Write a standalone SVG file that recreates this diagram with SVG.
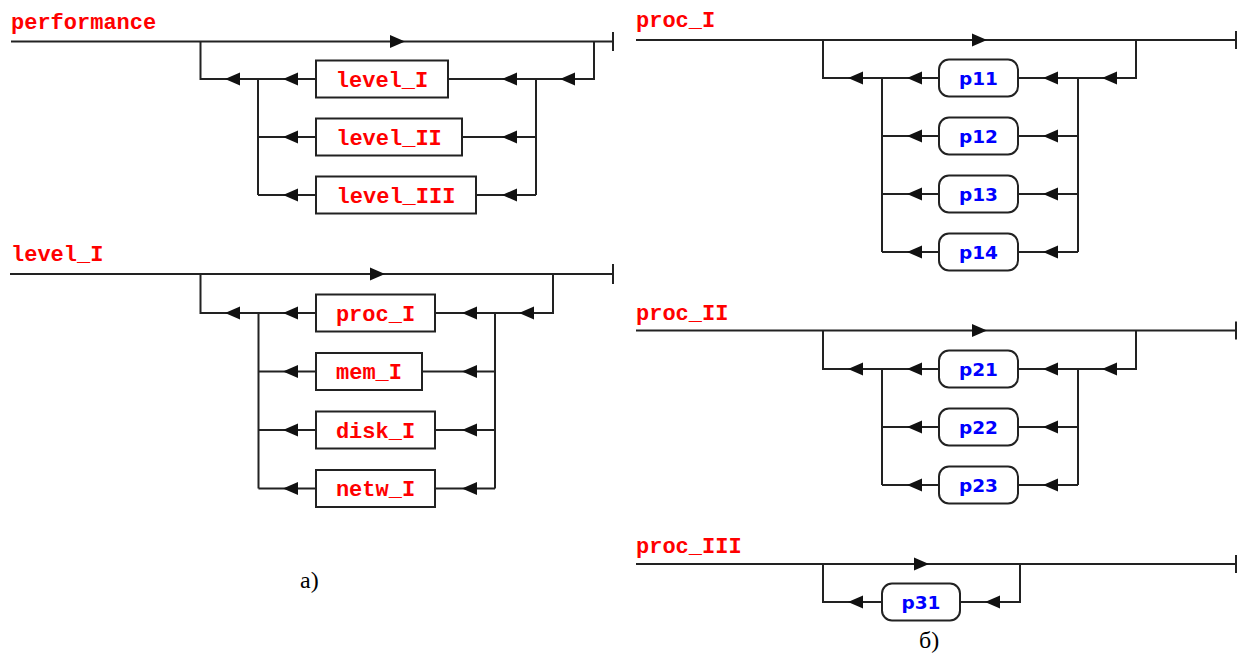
<svg xmlns="http://www.w3.org/2000/svg" width="1242" height="656" viewBox="0 0 1242 656">
<defs>
<path id="al" d="M0,0 L15,-6.5 L15,6.5 Z" fill="#111"/>
<path id="ar" d="M0,0 L-15,-6.5 L-15,6.5 Z" fill="#111"/>
</defs>
<style>
.ln{fill:none;stroke:#222;stroke-width:2}
.bx{fill:#fff;stroke:#222;stroke-width:2}
.nt{font-family:"Liberation Mono",monospace;font-weight:bold;font-size:22px;fill:#ff0000}
.bt{text-anchor:middle}
.pt{font-family:"DejaVu Sans",sans-serif;font-weight:bold;font-size:18.5px;fill:#0000ff;text-anchor:middle}
.cap{font-family:"Liberation Serif",serif;font-size:24px;fill:#000}
</style>
<rect width="1242" height="656" fill="#fff"/>

<g id="connectors">
  <!-- performance -->
  <path class="ln" d="M11,41.5H613 M613,32V51 M200.5,41.5V79H316 M448,79H594V41.5 M258,79V195 M258,137H316 M258,195H316 M536,79V195 M462,137H536 M476,195H536"/>
  <use href="#ar" x="405" y="41.5"/>
  <use href="#al" x="225" y="79"/><use href="#al" x="283" y="79"/><use href="#al" x="502" y="79"/><use href="#al" x="560" y="79"/>
  <use href="#al" x="283" y="137"/><use href="#al" x="502" y="137"/>
  <use href="#al" x="283" y="195"/><use href="#al" x="502" y="195"/>
  <!-- level_I -->
  <path class="ln" d="M10,274H613 M613,264V284 M200.5,274V313H316 M435,313H553V274 M258.5,313V488.5 M258.5,371.5H316 M258.5,430H316 M258.5,488.5H316 M495,313V488.5 M422,371.5H495 M435,430H495 M435,488.5H495"/>
  <use href="#ar" x="385" y="274"/>
  <use href="#al" x="225" y="313"/><use href="#al" x="283" y="313"/><use href="#al" x="462" y="313"/><use href="#al" x="519" y="313"/>
  <use href="#al" x="283" y="371.5"/><use href="#al" x="462" y="371.5"/>
  <use href="#al" x="283" y="430"/><use href="#al" x="462" y="430"/>
  <use href="#al" x="283" y="488.5"/><use href="#al" x="462" y="488.5"/>
  <!-- proc_I -->
  <path class="ln" d="M636,40H1236 M1236,31V49 M823,40V78H939 M1018,78H1136V40 M882,78V252 M882,136H939 M882,194H939 M882,252H939 M1078,78V252 M1018,136H1078 M1018,194H1078 M1018,252H1078"/>
  <use href="#ar" x="987" y="40"/>
  <use href="#al" x="848" y="78"/><use href="#al" x="907" y="78"/><use href="#al" x="1043" y="78"/><use href="#al" x="1102" y="78"/>
  <use href="#al" x="907" y="136"/><use href="#al" x="1043" y="136"/>
  <use href="#al" x="907" y="194"/><use href="#al" x="1043" y="194"/>
  <use href="#al" x="907" y="252"/><use href="#al" x="1043" y="252"/>
  <!-- proc_II -->
  <path class="ln" d="M636,330.5H1236 M1236,321.5V339.5 M823,330.5V369H939 M1018,369H1136V330.5 M882,369V485 M882,427H939 M882,485H939 M1078,369V485 M1018,427H1078 M1018,485H1078"/>
  <use href="#ar" x="987" y="330.5"/>
  <use href="#al" x="848" y="369"/><use href="#al" x="907" y="369"/><use href="#al" x="1043" y="369"/><use href="#al" x="1102" y="369"/>
  <use href="#al" x="907" y="427"/><use href="#al" x="1043" y="427"/>
  <use href="#al" x="907" y="485"/><use href="#al" x="1043" y="485"/>
  <!-- proc_III -->
  <path class="ln" d="M636,564H1236 M1236,555V573 M823,564V602H882 M960,602H1020V564"/>
  <use href="#ar" x="929" y="564"/>
  <use href="#al" x="848" y="602"/><use href="#al" x="985" y="602"/>
</g>

<g id="title-performance"><text class="nt" x="11" y="29">performance</text></g>
<g id="node-level_I"><rect class="bx" x="316" y="60.5" width="132" height="37"/><text class="nt bt" x="382" y="87">level_I</text></g>
<g id="node-level_II"><rect class="bx" x="316" y="118.5" width="146" height="37"/><text class="nt bt" x="389" y="145">level_II</text></g>
<g id="node-level_III"><rect class="bx" x="316" y="176.5" width="160" height="37"/><text class="nt bt" x="396" y="203">level_III</text></g>

<g id="title-level_I"><text class="nt" x="11" y="261">level_I</text></g>
<g id="node-proc_I"><rect class="bx" x="316" y="294.5" width="119" height="37"/><text class="nt bt" x="375.5" y="320.5">proc_I</text></g>
<g id="node-mem_I"><rect class="bx" x="316" y="353" width="106" height="37"/><text class="nt bt" x="369" y="379">mem_I</text></g>
<g id="node-disk_I"><rect class="bx" x="316" y="411.5" width="119" height="37"/><text class="nt bt" x="375.5" y="437.5">disk_I</text></g>
<g id="node-netw_I"><rect class="bx" x="316" y="470" width="119" height="37"/><text class="nt bt" x="375.5" y="496">netw_I</text></g>

<g id="title-proc_I"><text class="nt" x="636" y="27">proc_I</text></g>
<g id="node-p11"><rect class="bx" x="939" y="59.5" width="79" height="37" rx="10"/><text class="pt" x="978.5" y="85">p11</text></g>
<g id="node-p12"><rect class="bx" x="939" y="117.5" width="79" height="37" rx="10"/><text class="pt" x="978.5" y="143">p12</text></g>
<g id="node-p13"><rect class="bx" x="939" y="175.5" width="79" height="37" rx="10"/><text class="pt" x="978.5" y="201">p13</text></g>
<g id="node-p14"><rect class="bx" x="939" y="233.5" width="79" height="37" rx="10"/><text class="pt" x="978.5" y="259">p14</text></g>

<g id="title-proc_II"><text class="nt" x="636" y="320">proc_II</text></g>
<g id="node-p21"><rect class="bx" x="939" y="350.5" width="79" height="37" rx="10"/><text class="pt" x="978.5" y="376">p21</text></g>
<g id="node-p22"><rect class="bx" x="939" y="408.5" width="79" height="37" rx="10"/><text class="pt" x="978.5" y="434">p22</text></g>
<g id="node-p23"><rect class="bx" x="939" y="466.5" width="79" height="37" rx="10"/><text class="pt" x="978.5" y="492">p23</text></g>

<g id="title-proc_III"><text class="nt" x="636" y="553">proc_III</text></g>
<g id="node-p31"><rect class="bx" x="882" y="583.5" width="78" height="37" rx="10"/><text class="pt" x="921" y="609">p31</text></g>

<g id="captions">
  <text class="cap" x="300" y="588">a)</text>
  <text class="cap" x="919" y="648">б)</text>
</g>
</svg>
